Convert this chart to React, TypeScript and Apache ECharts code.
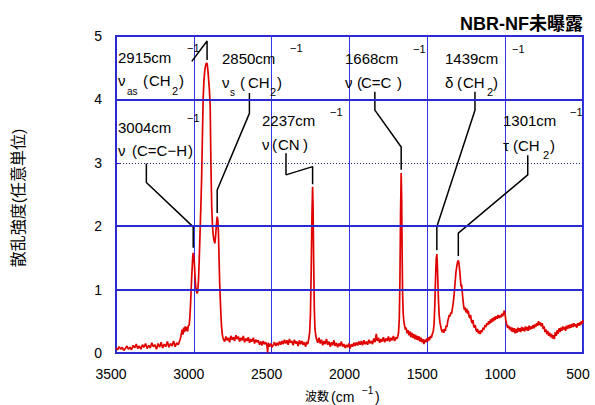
import { useEffect, useRef } from 'react';
import * as echarts from 'echarts';

// Raman spectrum of NBR-NF (unexposed): [wavenumber cm^-1, intensity a.u.]
const chStretchRegion: [number, number][] = [
  [3500, 0.08], [3490, 0.05], [3480, 0.10], [3470, 0.06], [3460, 0.09], [3450, 0.04], [3440, 0.07],
  [3430, 0.11], [3420, 0.06], [3410, 0.09], [3400, 0.05], [3390, 0.12], [3380, 0.08], [3370, 0.14],
  [3360, 0.07], [3350, 0.11], [3340, 0.06], [3330, 0.13], [3320, 0.09], [3310, 0.15], [3300, 0.07],
  [3290, 0.12], [3280, 0.08], [3270, 0.16], [3260, 0.10], [3250, 0.13], [3240, 0.06], [3230, 0.15],
  [3220, 0.09], [3210, 0.17], [3200, 0.08], [3190, 0.14], [3180, 0.10], [3170, 0.18], [3160, 0.09],
  [3150, 0.15], [3140, 0.11], [3130, 0.19], [3120, 0.10], [3110, 0.16], [3100, 0.13], [3090, 0.20],
  [3085, 0.24], [3080, 0.31], [3075, 0.37], [3070, 0.29], [3065, 0.40], [3060, 0.33], [3055, 0.42],
  [3050, 0.35], [3045, 0.41], [3040, 0.34], [3035, 0.43], [3030, 0.44], [3026, 0.55], [3022, 0.72],
  [3018, 0.95], [3014, 1.18], [3010, 1.38], [3007, 1.52], [3004, 1.58], [3000, 1.52], [2996, 1.38],
  [2992, 1.20], [2988, 1.05], [2984, 0.98], [2979, 0.94], [2975, 0.97], [2970, 1.15], [2965, 1.50],
  [2960, 1.90], [2955, 2.30], [2950, 2.75], [2945, 3.40], [2940, 4.02], [2935, 4.30], [2930, 4.45],
  [2925, 4.53], [2920, 4.57], [2915, 4.57], [2910, 4.47], [2905, 4.32], [2900, 4.15], [2895, 3.90],
  [2890, 2.95], [2885, 2.30], [2880, 2.00], [2875, 1.85], [2870, 1.77], [2865, 1.73], [2860, 1.85],
  [2855, 2.02], [2850, 2.15], [2846, 2.10], [2842, 1.90], [2838, 1.50], [2834, 1.10], [2830, 0.85],
  [2826, 0.60], [2822, 0.42], [2818, 0.31], [2814, 0.25],
];

const nitrileRegion: [number, number][] = [
  [2810, 0.22], [2802, 0.18], [2794, 0.26], [2786, 0.20], [2778, 0.24], [2770, 0.17], [2762, 0.27],
  [2754, 0.21], [2746, 0.25], [2738, 0.19], [2730, 0.28], [2722, 0.22], [2714, 0.26], [2706, 0.18],
  [2698, 0.24], [2690, 0.20], [2682, 0.27], [2674, 0.17], [2666, 0.23], [2658, 0.19], [2650, 0.25],
  [2642, 0.16], [2634, 0.22], [2626, 0.18], [2618, 0.24], [2610, 0.15], [2602, 0.21], [2594, 0.17],
  [2586, 0.20], [2578, 0.13], [2570, 0.18], [2562, 0.12], [2554, 0.19], [2546, 0.14], [2538, 0.17],
  [2530, 0.11], [2526, 0.01], [2522, 0.16], [2514, 0.10], [2506, 0.15], [2498, 0.09], [2490, 0.13],
  [2482, 0.17], [2474, 0.11], [2466, 0.16], [2458, 0.12], [2450, 0.18], [2442, 0.13], [2434, 0.19],
  [2426, 0.14], [2418, 0.21], [2410, 0.15], [2402, 0.20], [2394, 0.13], [2386, 0.22], [2378, 0.16],
  [2370, 0.19], [2362, 0.12], [2354, 0.21], [2346, 0.15], [2338, 0.18], [2330, 0.11], [2322, 0.20],
  [2314, 0.14], [2306, 0.19], [2298, 0.13], [2290, 0.17], [2282, 0.10], [2274, 0.18], [2268, 0.14],
  [2262, 0.22], [2256, 0.32], [2251, 0.60], [2246, 1.30], [2241, 2.20], [2237, 2.62], [2234, 2.30],
  [2230, 1.40], [2226, 0.70], [2222, 0.38], [2217, 0.28], [2212, 0.22], [2204, 0.16], [2196, 0.24],
  [2188, 0.15], [2180, 0.21], [2172, 0.12], [2164, 0.19], [2156, 0.14], [2148, 0.22], [2140, 0.13],
  [2132, 0.18], [2124, 0.10], [2116, 0.17], [2108, 0.12], [2100, 0.20], [2092, 0.11], [2084, 0.16],
  [2076, 0.09], [2068, 0.15], [2060, 0.11], [2052, 0.18], [2044, 0.10], [2036, 0.14], [2028, 0.08],
  [2020, 0.13], [2012, 0.09], [2004, 0.15], [1996, 0.07], [1988, 0.14], [1980, 0.10], [1972, 0.16],
  [1964, 0.11], [1956, 0.17], [1948, 0.12], [1940, 0.18], [1932, 0.13], [1924, 0.19], [1916, 0.12],
  [1908, 0.20], [1900, 0.14], [1892, 0.18], [1884, 0.13], [1876, 0.21], [1868, 0.15], [1860, 0.19],
  [1852, 0.14], [1844, 0.23], [1836, 0.17], [1828, 0.30], [1822, 0.19], [1814, 0.24], [1806, 0.16],
  [1798, 0.22], [1790, 0.18], [1782, 0.25], [1774, 0.17], [1766, 0.23], [1758, 0.19], [1750, 0.26],
  [1742, 0.18], [1734, 0.24], [1726, 0.20], [1718, 0.27], [1710, 0.19], [1702, 0.25], [1696, 0.22],
  [1690, 0.26],
];

const fingerprintRegion: [number, number][] = [
  [1685, 0.32], [1680, 0.55], [1676, 1.15], [1672, 2.20], [1668, 2.84], [1665, 2.45], [1662, 1.60],
  [1659, 0.95], [1655, 0.62], [1651, 0.50], [1646, 0.43], [1641, 0.37], [1636, 0.40], [1630, 0.31],
  [1624, 0.36], [1618, 0.28], [1612, 0.34], [1606, 0.25], [1600, 0.32], [1594, 0.24], [1588, 0.30],
  [1582, 0.22], [1576, 0.29], [1570, 0.21], [1564, 0.27], [1558, 0.20], [1552, 0.26], [1546, 0.18],
  [1540, 0.24], [1534, 0.17], [1528, 0.22], [1522, 0.14], [1516, 0.21], [1510, 0.17], [1504, 0.23],
  [1498, 0.18], [1492, 0.25], [1486, 0.20], [1480, 0.27], [1474, 0.24], [1468, 0.30], [1462, 0.34],
  [1457, 0.45], [1452, 0.75], [1447, 1.20], [1443, 1.48], [1439, 1.56], [1436, 1.42], [1432, 1.10],
  [1428, 0.80], [1424, 0.60], [1419, 0.48], [1414, 0.42], [1409, 0.36], [1404, 0.33], [1399, 0.37],
  [1394, 0.32], [1389, 0.38], [1384, 0.35], [1379, 0.43], [1374, 0.41], [1369, 0.50], [1364, 0.55],
  [1359, 0.60], [1354, 0.58], [1349, 0.64], [1344, 0.62], [1339, 0.70], [1334, 0.78], [1328, 0.92],
  [1322, 1.10], [1316, 1.28], [1310, 1.38], [1305, 1.44], [1301, 1.46], [1297, 1.42], [1292, 1.30],
  [1288, 1.18], [1284, 1.05], [1280, 1.08], [1276, 0.98], [1272, 0.86], [1267, 0.75], [1262, 0.68],
  [1257, 0.72], [1252, 0.64], [1247, 0.70], [1242, 0.62], [1237, 0.67], [1232, 0.58], [1227, 0.55],
  [1222, 0.60], [1217, 0.50], [1212, 0.47], [1207, 0.52], [1202, 0.42], [1197, 0.40], [1192, 0.44],
  [1187, 0.36], [1182, 0.34], [1177, 0.38], [1172, 0.31], [1166, 0.35], [1160, 0.30], [1154, 0.36],
  [1148, 0.33], [1142, 0.40], [1136, 0.37], [1130, 0.44], [1124, 0.41], [1118, 0.47], [1112, 0.44],
  [1106, 0.50], [1100, 0.46], [1094, 0.53], [1088, 0.48], [1082, 0.55], [1076, 0.50], [1070, 0.57],
  [1064, 0.52], [1058, 0.58], [1052, 0.54], [1046, 0.60], [1040, 0.55], [1034, 0.59], [1028, 0.56],
  [1022, 0.62], [1016, 0.58], [1010, 0.63], [1005, 0.67], [1000, 0.60], [995, 0.50], [990, 0.45],
  [984, 0.40], [978, 0.43], [972, 0.37], [966, 0.41], [960, 0.34], [954, 0.40], [948, 0.33],
  [942, 0.39], [936, 0.31], [930, 0.38], [924, 0.32], [918, 0.40], [912, 0.34], [906, 0.39],
  [900, 0.33], [894, 0.41], [888, 0.35], [882, 0.40], [876, 0.34], [870, 0.42], [864, 0.36],
  [858, 0.41], [852, 0.35], [846, 0.43], [840, 0.37], [834, 0.42], [828, 0.38], [822, 0.44],
  [816, 0.39], [810, 0.45], [804, 0.41], [798, 0.47], [792, 0.43], [786, 0.50], [780, 0.44],
  [774, 0.48], [768, 0.42], [762, 0.47], [756, 0.38], [750, 0.42], [744, 0.33], [738, 0.37],
  [732, 0.30], [726, 0.35], [720, 0.27], [714, 0.32], [708, 0.25], [702, 0.30], [696, 0.23],
  [690, 0.28], [684, 0.22], [678, 0.33], [672, 0.27], [666, 0.36], [660, 0.30], [654, 0.39],
  [648, 0.33], [642, 0.40], [636, 0.35], [630, 0.42], [624, 0.37], [618, 0.41], [612, 0.35],
  [606, 0.43], [600, 0.38], [594, 0.44], [588, 0.39], [582, 0.45], [576, 0.40], [570, 0.46],
  [564, 0.41], [558, 0.47], [552, 0.42], [546, 0.45], [540, 0.40], [534, 0.47], [528, 0.43],
  [522, 0.48], [516, 0.44], [510, 0.50], [504, 0.46], [500, 0.52],
];

const spectrum = [...chStretchRegion, ...nitrileRegion, ...fingerprintRegion];

// Leader lines from each band label down to its peak, in data coordinates
const leaders: [number, number][][] = [
  [[3305, 2.99], [3305, 2.69], [3004, 1.99], [3004, 1.66]],
  [[3013, 4.6], [2915, 4.92], [2915, 4.62]],
  [[2643, 4.1], [2643, 3.78], [2850, 2.57], [2850, 2.21]],
  [[2408, 3.15], [2408, 2.81], [2237, 2.94], [2237, 2.66]],
  [[1837, 4.12], [1837, 3.83], [1668, 3.25], [1668, 2.89]],
  [[1194, 4.12], [1194, 3.83], [1439, 1.99], [1439, 1.62]],
  [[855, 3.12], [855, 2.81], [1301, 1.89], [1301, 1.53]],
];

const FONT = '"Liberation Sans", Arial, "Noto Sans CJK JP", sans-serif';
const BLUE = '#2a2ad0';

// text piece: [text, dx, dy, fontSize]
type Piece = [string, number, number, number];
interface BandLabel { x: number; y: number; head: string; supDx: number; supDy: number; mode: Piece[] }

const bandLabels: BandLabel[] = [
  { x: 118, y: 57, head: '2915cm', supDx: 69, supDy: -9,
    mode: [['ν', 0, 23, 15], ['as', 9, 34, 10], ['(', 25, 23, 15], ['CH', 31, 23, 15], ['2', 54, 34, 11], [')', 61, 23, 15]] },
  { x: 222, y: 58, head: '2850cm', supDx: 68, supDy: -10,
    mode: [['ν', 0, 24, 15], ['s', 8, 34, 10], ['(', 18, 24, 15], ['CH', 26, 24, 15], ['2', 48, 34, 11], [')', 55, 24, 15]] },
  { x: 345, y: 58, head: '1668cm', supDx: 68, supDy: -9,
    mode: [['ν', 0, 24, 15], ['(', 12, 24, 15], ['C=C', 16, 24, 15], [')', 52, 24, 15]] },
  { x: 445, y: 58, head: '1439cm', supDx: 67, supDy: -9,
    mode: [['δ', 0, 24, 15], ['(', 12, 24, 15], ['CH', 18, 24, 15], ['2', 42, 34, 11], [')', 48, 24, 15]] },
  { x: 118, y: 127, head: '3004cm', supDx: 69, supDy: -9,
    mode: [['ν', 0, 23, 15], ['(', 14, 23, 15], ['C=C−H', 19, 23, 15], [')', 70, 23, 15]] },
  { x: 262, y: 120, head: '2237cm', supDx: 68, supDy: -8,
    mode: [['ν', 0, 24, 15], ['(', 10, 24, 15], ['CN', 16, 24, 15], [')', 41, 24, 15]] },
  { x: 503, y: 120, head: '1301cm', supDx: 67, supDy: -8,
    mode: [['τ', 0, 25, 15], ['(', 10, 25, 15], ['CH', 15, 25, 15], ['2', 40, 35, 11], [')', 47, 25, 15]] },
];

function textEl(text: string, x: number, y: number, size: number, extra: Record<string, unknown> = {}) {
  return {
    type: 'text', x, y, silent: true, z: 10,
    style: { text, fontSize: size, fontFamily: FONT, fill: '#000', align: 'left', verticalAlign: 'middle', ...extra },
  };
}

export default function App() {
  const ref = useRef<HTMLDivElement>(null);

  useEffect(() => {
    if (!ref.current) return;
    document.body.style.margin = '0';
    const chart = echarts.init(ref.current, undefined, { renderer: 'svg' });

    const graphics: any[] = [];
    bandLabels.forEach((b) => {
      graphics.push(textEl(b.head, b.x, b.y, 15));
      graphics.push(textEl('−1', b.x + b.supDx, b.y + b.supDy, 11));
      b.mode.forEach(([t, dx, dy, s]) => graphics.push(textEl(t, b.x + dx, b.y + dy, s)));
    });
    graphics.push(textEl('NBR-NF未曝露', 583, 24, 18, { align: 'right', fontWeight: 'bold' }));
    // x-axis title with superscript
    graphics.push(textEl('波数', 305, 397, 12));
    graphics.push(textEl('(cm', 331, 397, 14));
    graphics.push(textEl('−1', 362, 390, 10));
    graphics.push(textEl(')', 375, 397, 14));
    graphics.push({
      type: 'text', x: 18, y: 198, rotation: Math.PI / 2, silent: true,
      style: { text: '散乱強度(任意単位)', fontSize: 16, fontFamily: FONT, fill: '#000', align: 'center', verticalAlign: 'middle' },
    });

    const gridLine = (v: number) => ({ yAxis: v, lineStyle: { color: BLUE, width: 2, type: 'solid' } });

    chart.setOption({
      animation: false,
      backgroundColor: '#fff',
      grid: { left: 116, right: 12, top: 36, bottom: 52, show: true, borderColor: BLUE, borderWidth: 2, backgroundColor: '#fff' },
      xAxis: {
        type: 'value', inverse: true, min: 500, max: 3500, interval: 500,
        axisLine: { show: true, lineStyle: { color: BLUE, width: 2 } },
        axisTick: { show: true, inside: true, length: 4, lineStyle: { color: BLUE } },
        axisLabel: { color: '#000', fontSize: 14, fontFamily: FONT, margin: 14, padding: [0, 10, 0, 0], formatter: (v: number) => String(v) },
        splitLine: { show: true, lineStyle: { color: '#3535e8', width: 1 } },
      },
      yAxis: {
        type: 'value', min: 0, max: 5, interval: 1,
        axisLine: { show: true, lineStyle: { color: BLUE, width: 2 } },
        axisTick: { show: true, inside: true, length: 4, lineStyle: { color: BLUE } },
        axisLabel: { color: '#000', fontSize: 14, fontFamily: FONT, margin: 14 },
        splitLine: { show: false },
      },
      graphic: graphics,
      series: [
        {
          type: 'line', data: [[3600, -1]], silent: true, z: 1, showSymbol: false,
          lineStyle: { opacity: 0 },
          markLine: {
            symbol: ['none', 'none'], silent: true, label: { show: false },
            data: [gridLine(1), gridLine(2), gridLine(4),
              { yAxis: 3, lineStyle: { color: '#1c1c70', width: 1, type: [1, 2] } }],
          },
        },
        {
          type: 'line', data: spectrum, showSymbol: false, z: 3, silent: true,
          lineStyle: { color: '#e00000', width: 1.7 },
        },
        ...leaders.map((pts) => ({
          type: 'line', data: pts, showSymbol: false, z: 4, silent: true,
          lineStyle: { color: '#000', width: 1.5 },
        })),
      ],
    });

    return () => chart.dispose();
  }, []);

  return <div ref={ref} style={{ width: 595, height: 405 }} />;
}
